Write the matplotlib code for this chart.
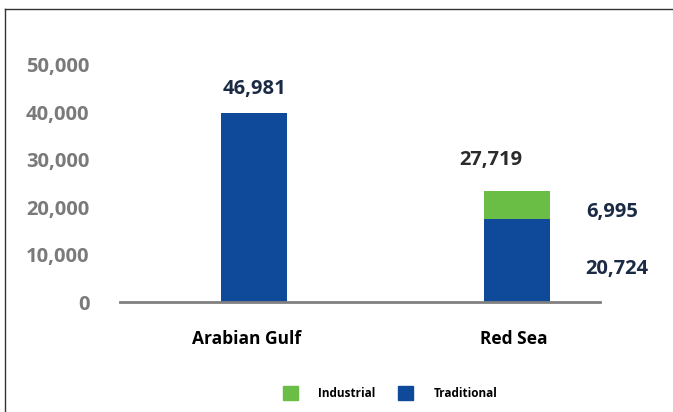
import matplotlib.pyplot as plt
import matplotlib.transforms as mtransforms
from matplotlib.lines import Line2D
from matplotlib.patches import Patch

plt.rcParams['font.family'] = ['Open Sans', 'DejaVu Sans']

# data
regions = ['Arabian Gulf', 'Red Sea']
# bar heights as drawn in the picture
traditional = [39850, 17400]
industrial = [0, 5950]
# value labels as printed
total_labels = ['46,981', '27,719']
industrial_label = '6,995'
traditional_label = '20,724'
yticks = [0, 10000, 20000, 30000, 40000, 50000]

blue = '#0e4a99'
green = '#6abd45'
navy = '#1b2b45'

W, H = 673, 412
fig = plt.figure(figsize=(W / 100, H / 100), dpi=100)
# axes placed in pixel terms: left 120, right 600, bottom 302
ax = fig.add_axes([120 / W, (H - 302) / H, 480 / W, (302 - 40) / H])

x = list(range(len(regions)))
ax.bar(x, traditional, width=0.25, color=blue, label='Traditional', zorder=2)
ax.bar(x, industrial, width=0.25, bottom=traditional, color=green, label='Industrial', zorder=2)

ax.set_xlim(-0.51, 1.315)
ax.set_ylim(0, 55200)

ax.set_yticks(yticks)
ax.set_yticklabels([f'{v:,}' for v in yticks], fontsize=14.5, fontweight='bold', color='#7a7a7a')
ax.tick_params(axis='y', length=0, pad=22)
ax.set_xticks(x)
ax.set_xticklabels(regions, fontsize=12.5, fontweight='bold', color='black')
ax.tick_params(axis='x', length=0, pad=20)
# nudge the category labels a little to the left, as in the original
for lbl, dx in zip(ax.get_xticklabels(), [-8, -3]):
    lbl.set_transform(lbl.get_transform() + mtransforms.ScaledTranslation(dx / 100, 0, fig.dpi_scale_trans))

for s in ['top', 'right', 'left']:
    ax.spines[s].set_visible(False)
ax.spines['bottom'].set_color('#808080')
ax.spines['bottom'].set_linewidth(2)

# value labels
lab = dict(ha='center', va='center', fontsize=14.5, fontweight='bold', clip_on=False)
ax.text(0, traditional[0] + 5000, total_labels[0], color=navy, **lab)
ax.text(0.9, traditional[1] + industrial[1] + 6600, total_labels[1], color='#2b2b2b', **lab)
ax.text(1.36, traditional[1] + industrial[1] - 4400, industrial_label, color=navy, **lab)
ax.text(1.38, 7000, traditional_label, color=navy, **lab)

# legend
handles = [Patch(color=green, label='Industrial'), Patch(color=blue, label='Traditional')]
fig.legend(handles=handles, loc='center', bbox_to_anchor=(390 / W, 1 - 393 / H), ncol=2,
           frameon=False, prop={'size': 8.5, 'weight': 'bold'}, handlelength=1.27,
           handleheight=1.44, handletextpad=1.75, columnspacing=1.9)

# frame lines on the left and top of the figure
fig.add_artist(Line2D([5 / W, 5 / W], [0, 1 - 9 / H], color='#333333', lw=1))
fig.add_artist(Line2D([5 / W, 1], [1 - 9 / H, 1 - 9 / H], color='#333333', lw=1))

fig.savefig('out.png', dpi=100)
